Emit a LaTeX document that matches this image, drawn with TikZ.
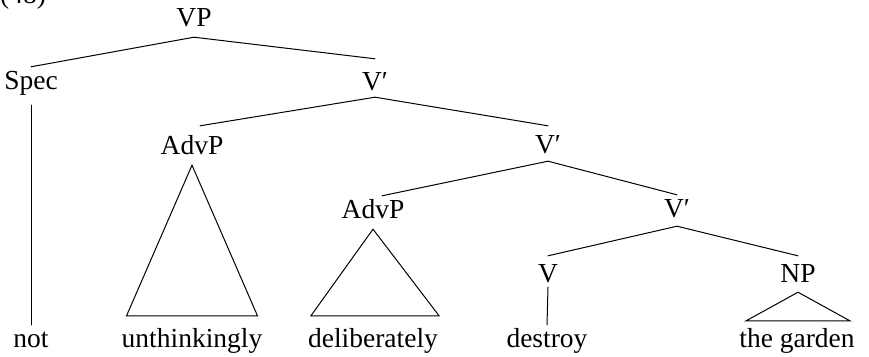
\documentclass[tikz,border=0pt]{standalone}
\usepackage{fontspec}
\setmainfont{Liberation Serif}
\begin{document}
\begin{tikzpicture}[x=1pt,y=-1pt,
  lbl/.style={anchor=base,inner xsep=0pt,inner ysep=4pt,text height=18pt,text depth=5pt,font=\fontsize{27.5}{32}\selectfont},
  edge/.style={line width=1pt,line cap=round,line join=miter},
  tri/.style={line width=1pt,line join=miter}]
\useasboundingbox (0,0) rectangle (869,356);
\clip (0,0) rectangle (869,356);
\node[lbl,anchor=base west] (num) at (0,3) {(48)};
\node[lbl] (vp) at (194,27) {VP};
\node[lbl] (spec) at (31,89) {Spec};
\node[lbl] (vb1) at (375,90) {V′};
\node[lbl] (advp1) at (192,154) {AdvP};
\node[lbl] (vb2) at (548,153) {V′};
\node[lbl] (advp2) at (373,218) {AdvP};
\node[lbl] (vb3) at (677,217) {V′};
\node[lbl] (v) at (548,282) {V};
\node[lbl] (np) at (798,282) {NP};
\node[lbl] (not) at (31,347) {not};
\node[lbl] (unth) at (192,347) {unthinkingly};
\node[lbl] (delib) at (373,347) {deliberately};
\node[lbl] (destroy) at (547,347) {destroy};
\node[lbl] (garden) at (797,347) {the garden};
% branches
\draw[edge] ([yshift=-1pt]vp.south) -- (spec.north);
\draw[edge] ([yshift=-1pt]vp.south) -- ([yshift=9pt]vb1.north);
\draw[edge] ([yshift=2pt]vb1.south) -- ([xshift=8pt,yshift=6pt]advp1.north);
\draw[edge] ([yshift=2pt]vb1.south) -- ([yshift=5pt]vb2.north);
\draw[edge] ([yshift=1pt]vb2.south) -- ([xshift=9pt]advp2.north);
\draw[edge] ([yshift=1pt]vb2.south) -- (vb3.north);
\draw[edge] (vb3.south) -- ([yshift=4pt]v.north);
\draw[edge] (vb3.south) -- ([yshift=4pt]np.north);
\draw[edge] ([yshift=-7pt]spec.south) -- (not.north);
\draw[edge] ([yshift=4pt]v.south) -- (destroy.north);
% triangles
\draw[tri] ([yshift=-2pt]advp1.south) -- ([xshift=5pt,yshift=9pt]unth.north west) -- ([xshift=-5pt,yshift=9pt]unth.north east) -- cycle;
\draw[tri] ([yshift=-2pt]advp2.south) -- ([xshift=3pt,yshift=9pt]delib.north west) -- ([xshift=1pt,yshift=9pt]delib.north east) -- cycle;
\draw[tri] ([yshift=-1pt]np.south) -- ([xshift=7pt,yshift=4pt]garden.north west) -- ([xshift=-5pt,yshift=4pt]garden.north east) -- cycle;
\end{tikzpicture}
\end{document}
